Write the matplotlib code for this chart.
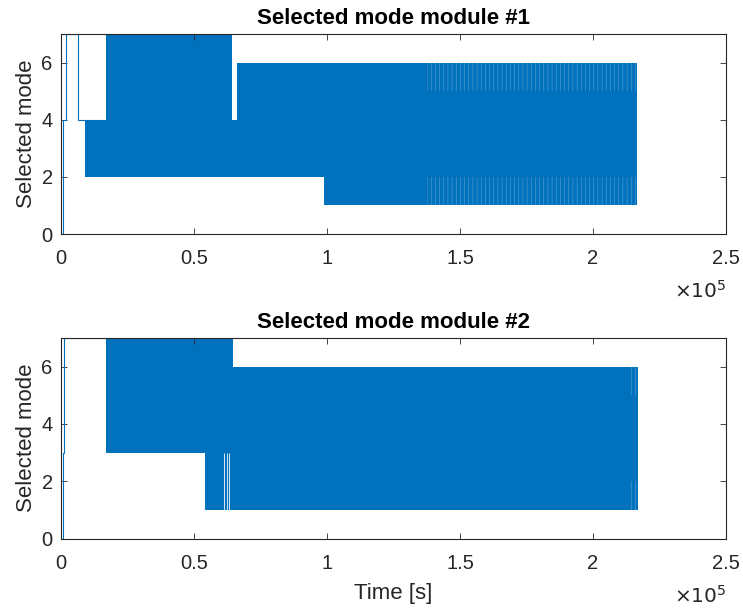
import matplotlib
matplotlib.use('Agg')
import matplotlib.pyplot as plt

plt.rcParams['font.family'] = ['Liberation Sans', 'DejaVu Sans']
plt.rcParams['hatch.linewidth'] = 0.4

LINE_COLOR = '#0072BD'
AXIS_COLOR = '#262626'

# slow start-up switching: (time [s], mode) with the mode held until the next time
start1_t = [0, 640, 1880, 6500, 16800]
start1_mode = [0, 4, 7, 4, 4]
start2_t = [0, 640, 1240, 16800]
start2_mode = [0, 3, 7, 7]

# fast switching bands: (t_start, t_end, lowest mode, highest mode)
bands1 = [
    (9000, 16800, 2, 4),
    (16800, 64400, 2, 7),
    (64400, 66050, 2, 4),
    (66050, 98900, 2, 6),
    (98900, 216650, 1, 6),
]
bands2 = [
    (16800, 54100, 3, 7),
    (54100, 64550, 1, 7),
    (64550, 216800, 1, 6),
]

# stretches where the extreme modes are only visited intermittently
sparse1 = [
    (137500, 216650, 5, 6),
    (137500, 216650, 1, 2),
]
sparse2 = [
    (213000, 216800, 5, 6),
    (213000, 216800, 1, 2),
]

# short pauses in the switching of module #2 (time, low, high)
pauses2 = [(61400, 1, 3), (62300, 1, 3), (63100, 1, 3)]

x_ticks = [0, 0.5e5, 1e5, 1.5e5, 2e5, 2.5e5]
x_tick_labels = ['0', '0.5', '1', '1.5', '2', '2.5']
y_ticks = [0, 2, 4, 6]

fig = plt.figure(figsize=(7.43, 6.10), dpi=100)
W, H = 743, 610
ax1 = fig.add_axes([61 / W, (H - 234) / H, 665 / W, 200 / H])
ax2 = fig.add_axes([61 / W, (H - 538.5) / H, 665 / W, 200.5 / H])


def draw_module(ax, start_t, start_mode, bands, sparse, pauses, title):
    ax.step(start_t, start_mode, where='post', color=LINE_COLOR, lw=0.8)
    for t0, t1, lo, hi in bands:
        ax.fill_between([t0, t1], lo, hi, color=LINE_COLOR, lw=0)
    for t0, t1, lo, hi in sparse:
        ax.fill_between([t0, t1], lo, hi, facecolor='none',
                        edgecolor='#5d9fd3', hatch='||||', lw=0)
    for t, lo, hi in pauses:
        ax.vlines(t, lo, hi, color='#d8e8f4', lw=0.7)

    ax.set_xlim(0, 2.5e5)
    ax.set_ylim(0, 7)
    ax.set_xticks(x_ticks)
    ax.set_xticklabels(x_tick_labels)
    ax.set_yticks(y_ticks)
    ax.tick_params(direction='in', top=True, right=True, length=4,
                   width=0.6, colors=AXIS_COLOR, labelsize=14.5)
    ax.tick_params(axis='x', pad=11)
    ax.tick_params(axis='y', pad=6)
    for side in ax.spines.values():
        side.set_color(AXIS_COLOR)
        side.set_linewidth(0.8)
    ax.set_ylabel('Selected mode', fontsize=16, color=AXIS_COLOR, labelpad=3)
    ax.set_title(title, fontsize=16, fontweight='bold', pad=7)
    ax.text(1.0, -0.285, r'$\times10^{5}$', transform=ax.transAxes,
            ha='right', va='center', fontsize=14.5, color=AXIS_COLOR,
            math_fontfamily='dejavusans')


draw_module(ax1, start1_t, start1_mode, bands1, sparse1, [], 'Selected mode module #1')
draw_module(ax2, start2_t, start2_mode, bands2, sparse2, pauses2, 'Selected mode module #2')
ax2.set_xlabel('Time [s]', fontsize=16, color=AXIS_COLOR, labelpad=7)

fig.savefig('out.png', dpi=100)
